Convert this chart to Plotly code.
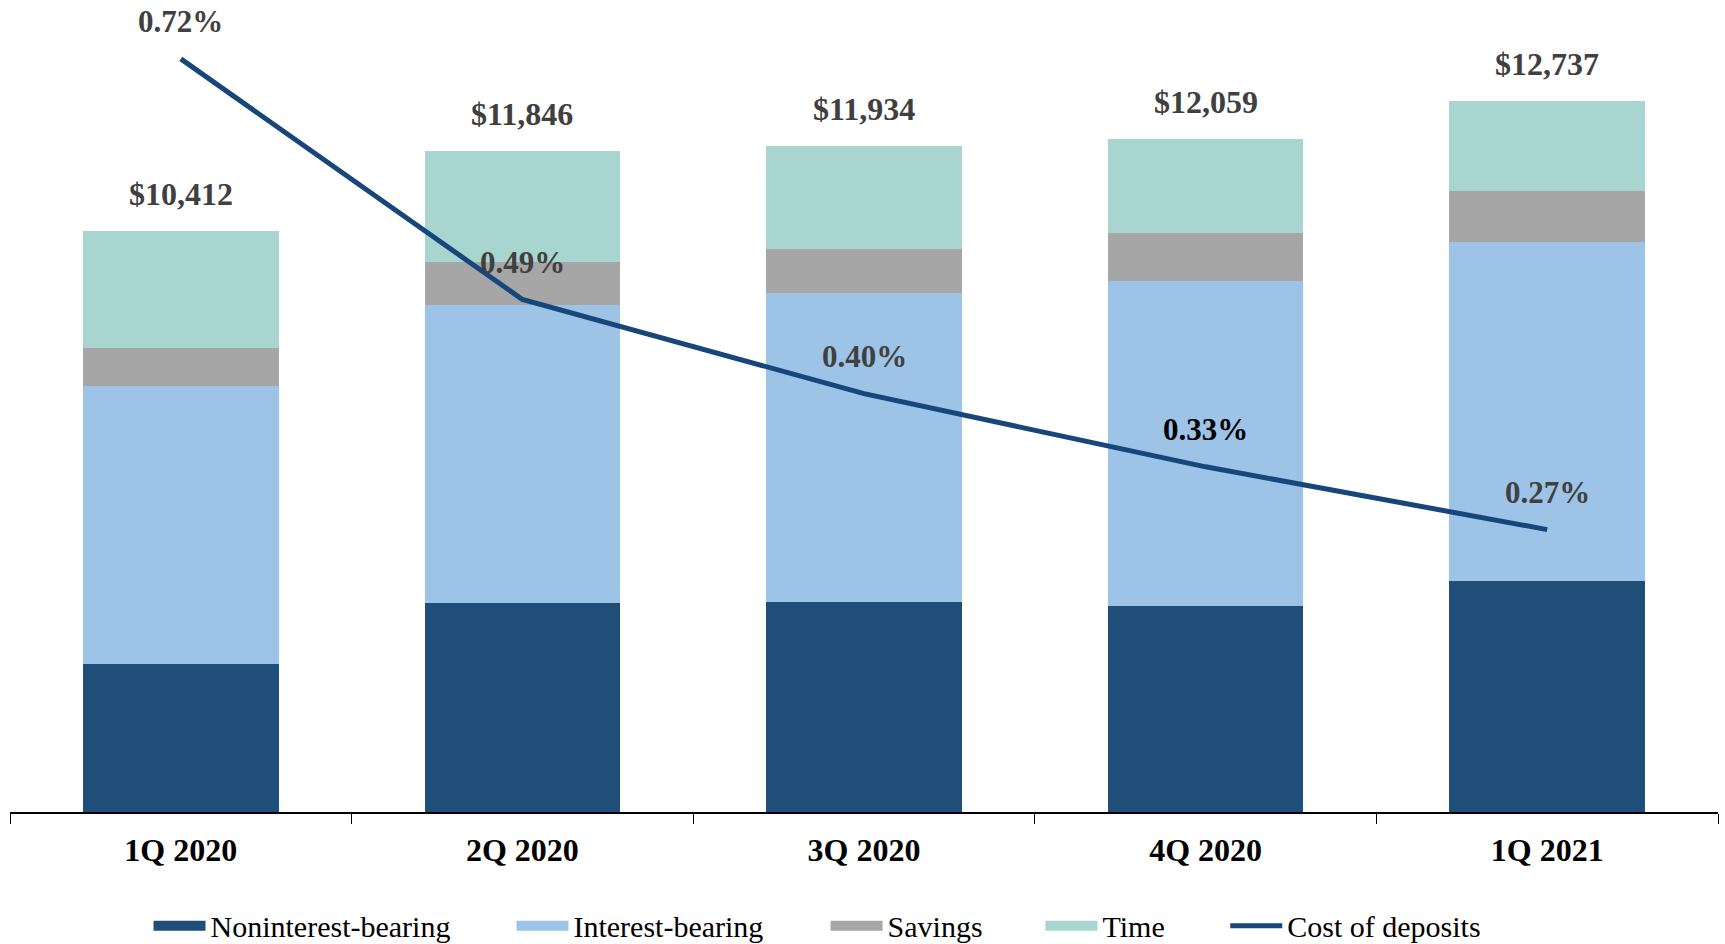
import plotly.graph_objects as go

quarters = ["1Q 2020", "2Q 2020", "3Q 2020", "4Q 2020", "1Q 2021"]
noninterest = [2645, 3749, 3769, 3690, 4143]
interest = [4982, 5341, 5540, 5835, 6072]
savings = [692, 769, 789, 848, 907]
time_dep = [2093, 1987, 1836, 1686, 1615]
cost_of_deposits = [0.72, 0.49, 0.40, 0.33, 0.27]
totals = [a + b + c + d for a, b, c, d in zip(noninterest, interest, savings, time_dep)]

FONT = "Liberation Serif"
series = [
    ("Noninterest-bearing", noninterest, "#1F4E79"),
    ("Interest-bearing", interest, "#9DC3E6"),
    ("Savings", savings, "#A6A6A6"),
    ("Time", time_dep, "#A8D5CF"),
]
LINE_COLOR = "#17467B"

fig = go.Figure()
for name, vals, col in series:
    fig.add_trace(go.Bar(x=quarters, y=vals, name=name, marker=dict(color=col, line=dict(width=0)),
                         showlegend=False, hoverinfo="x+y+name"))

fig.add_trace(go.Scatter(x=quarters, y=cost_of_deposits, yaxis="y2", mode="lines",
                         line=dict(color=LINE_COLOR, width=5), name="Cost of deposits",
                         showlegend=False))

# legend entries (legend-only proxies, styled like the reference swatches)
legend_x = [0.0811, 0.2936, 0.4775, 0.6033, 0.7115]
legend_names = [s[0] for s in series] + ["Cost of deposits"]
legend_cols = [s[2] for s in series] + [LINE_COLOR]
legend_widths = [16, 16, 16, 16, 5]
for i, (nm, col, w) in enumerate(zip(legend_names, legend_cols, legend_widths)):
    lg = "legend" if i == 0 else f"legend{i+1}"
    fig.add_trace(go.Scatter(x=[None], y=[None], mode="lines", name=nm,
                             line=dict(color=col, width=w), legend=lg, showlegend=True))

layout_legends = {}
for i, lx in enumerate(legend_x):
    key = "legend" if i == 0 else f"legend{i+1}"
    layout_legends[key] = dict(x=lx, xanchor="left", y=-0.1435, yanchor="middle",
                               orientation="h", itemwidth=52,
                               font=dict(family=FONT, size=30, color="#000000"),
                               bgcolor="rgba(0,0,0,0)", borderwidth=0)

annotations = []
for q, t in zip(quarters, totals):
    annotations.append(dict(x=q, y=t, xref="x", yref="y", text=f"${t:,}", showarrow=False,
                            yshift=37, font=dict(family=FONT, size=32, color="#404040", weight="bold"),
                            xanchor="center", yanchor="middle"))
for i, (q, c) in enumerate(zip(quarters, cost_of_deposits)):
    col = "#000000" if i == 3 else "#404040"
    annotations.append(dict(x=q, y=c, xref="x", yref="y2", text=f"{c:.2f}%", showarrow=False,
                            yshift=37, font=dict(family=FONT, size=31, color=col, weight="bold"),
                            xanchor="center", yanchor="middle"))

fig.update_layout(
    width=1725, height=944,
    margin=dict(l=10, r=7, t=20, b=132, autoexpand=False),
    paper_bgcolor="white", plot_bgcolor="white",
    barmode="stack", bargap=0.427,
    font=dict(family=FONT),
    xaxis=dict(type="category", showline=True, linecolor="#000000", linewidth=1.5,
               ticks="outside", tickson="boundaries", ticklen=10, tickcolor="#000000",
               tickwidth=1.2, showgrid=False, zeroline=False, automargin=False,
               tickfont=dict(family=FONT, size=32, color="#000000", weight="bold"),
               ticklabelstandoff=9),
    yaxis=dict(range=[0, 14194], visible=False, showgrid=False, zeroline=False),
    yaxis2=dict(range=[0, 0.7572], overlaying="y", side="right", visible=False,
                showgrid=False, zeroline=False),
    annotations=annotations,
    **layout_legends,
)

# remove the default page margin so the figure fills the window exactly
fig.write_html("out.html", config={"displayModeBar": False},
               post_script="document.body.style.margin='0';document.body.style.overflow='hidden';")
